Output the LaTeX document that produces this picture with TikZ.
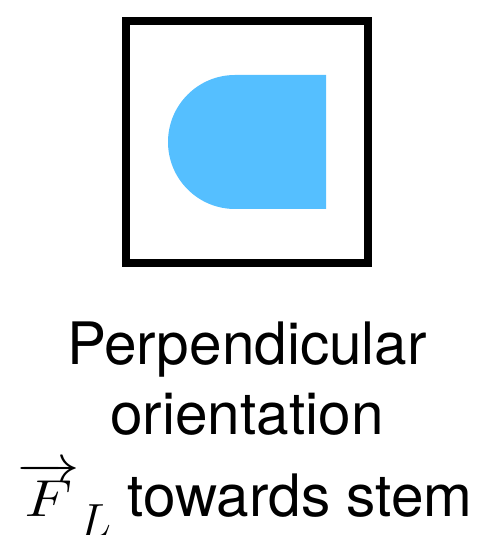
\RequirePackage{fix-cm}
\documentclass[tikz,border=0pt]{standalone}
\usepackage{amsmath}
\usepackage{fontspec}
\setmainfont{TeX Gyre Heros}
\usepackage{xcolor}
\usetikzlibrary{positioning}
\definecolor{leafblue}{HTML}{55BFFF}
\newcommand{\forcevec}{\scalebox{1.2}[1]{\fontsize{52}{60}\selectfont$\overrightarrow{F}$}\raisebox{-20pt}{\fontsize{48}{56}\selectfont$L$}}

\begin{document}
\begin{tikzpicture}[x=1pt,y=1pt,
  frame/.style={draw=black,line width=8pt},
  leaf/.style={fill=leafblue,draw=none},
  caption/.style={anchor=base,inner sep=0pt,font=\fontsize{58.5}{70}\selectfont}]
\useasboundingbox (0,0) rectangle (489,535);
\node[frame,minimum width=242pt,minimum height=242pt,inner sep=0pt] (box) at (247,393) {};
\path[leaf] (326,460) -- (235,460) arc[start angle=90,end angle=270,radius=67] -- (326,326) -- cycle;
\node[caption] (perp) at (247,170) {Perpendicular};
\node[caption] (orient) at (247,100) {orientation};
\node[caption,anchor=base west] (force) at (17,18) {\forcevec\ towards stem};
\end{tikzpicture}
\end{document}
